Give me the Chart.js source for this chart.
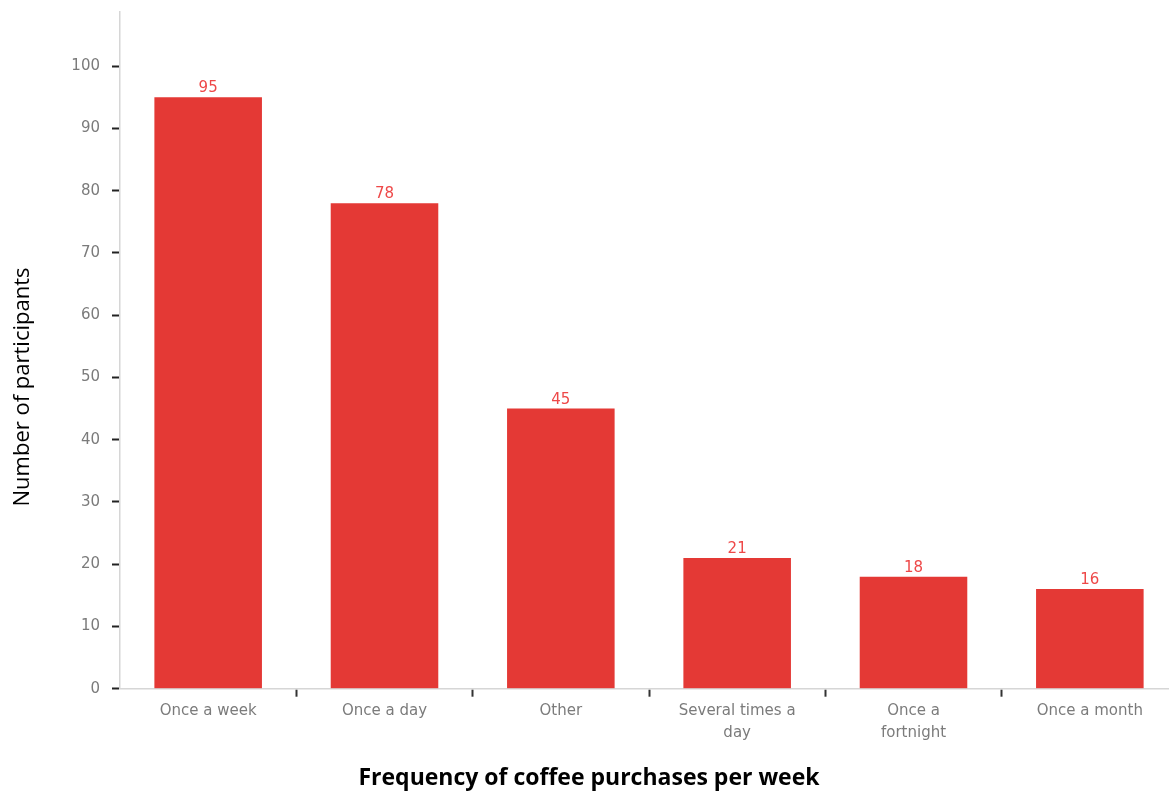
<!DOCTYPE html>
<html>
<head>
<meta charset="utf-8">
<script src="https://cdn.jsdelivr.net/npm/chart.js@4.4.1/dist/chart.umd.min.js"></script>
<style>
  html, body { margin: 0; padding: 0; background: #fff; overflow: hidden; }
  #wrap { width: 1169px; height: 791px; overflow: hidden; }
</style>
</head>
<body>
<div id="wrap"><canvas id="coffeeChart" width="1178" height="791"></canvas></div>
<script>
// categories and counts
const categories = ['Once a week', 'Once a day', 'Other', ['Several times a', 'day'], ['Once a', 'fortnight'], 'Once a month'];
const participants = [95, 78, 45, 21, 18, 16];
const yTicks = [0, 10, 20, 30, 40, 50, 60, 70, 80, 90, 100];
const yTitle = 'Number of participants';

const barColor = 'rgb(228, 57, 53)';
const labelColor = 'rgb(238, 72, 72)';
const tickGray = '#7b7b7b';

// draws the value above each bar + the y axis title (sits a bit low in the original)
const valueLabels = {
  id: 'valueLabels',
  afterDatasetsDraw(chart) {
    const ctx = chart.ctx;
    const meta = chart.getDatasetMeta(0);
    ctx.save();
    ctx.font = '15px "DejaVu Sans"';
    ctx.fillStyle = labelColor;
    ctx.textAlign = 'center';
    ctx.textBaseline = 'alphabetic';
    meta.data.forEach((bar, i) => {
      ctx.fillText(participants[i], bar.x, bar.y - 5);
    });
    ctx.restore();

    ctx.save();
    ctx.translate(23, 387);
    ctx.rotate(-Math.PI / 2);
    ctx.font = '22px "Open Sans"';
    ctx.fillStyle = '#000';
    ctx.textAlign = 'center';
    ctx.textBaseline = 'middle';
    ctx.fillText(yTitle, 0, 0);
    ctx.restore();
  }
};

const ctx = document.getElementById('coffeeChart').getContext('2d');
new Chart(ctx, {
  type: 'bar',
  data: {
    labels: categories,
    datasets: [{
      data: participants,
      backgroundColor: barColor,
      barPercentage: 0.61,
      categoryPercentage: 1
    }]
  },
  options: {
    responsive: false,
    animation: false,
    layout: { padding: { top: 12, left: 0, right: 0, bottom: 0 } },
    plugins: {
      legend: { display: false },
      tooltip: { enabled: false },
      title: {
        display: true,
        position: 'bottom',
        text: 'Frequency of coffee purchases per week',
        color: '#000',
        font: { family: '"Open Sans"', size: 23, weight: 'bold', lineHeight: 1.1 },
        padding: { top: 19, bottom: 0 }
      }
    },
    scales: {
      x: {
        offset: true,
        border: { display: true, color: '#d6d6d6', width: 1.5 },
        grid: {
          offset: true,
          drawOnChartArea: false,
          drawTicks: true,
          tickLength: 8,
          tickWidth: 2,
          tickColor: (c) => (c.index === 0 ? 'rgba(0,0,0,0)' : '#333')
        },
        ticks: {
          color: tickGray,
          padding: 3,
          maxRotation: 0,
          autoSkip: false,
          font: { family: '"DejaVu Sans"', size: 15, lineHeight: '22px' }
        }
      },
      y: {
        min: 0,
        max: 108.7,
        border: { display: true, color: '#d6d6d6', width: 1.5 },
        afterBuildTicks: (scale) => {
          scale.ticks = yTicks.map(v => ({ value: v }));
        },
        afterFit: (scale) => {
          scale.width = 120;
        },
        grid: {
          drawOnChartArea: false,
          drawTicks: true,
          tickLength: 8,
          tickWidth: 2,
          tickColor: '#222'
        },
        ticks: {
          color: tickGray,
          padding: 12,
          font: { family: '"DejaVu Sans"', size: 15, lineHeight: 0.01 }
        }
      }
    }
  },
  plugins: [valueLabels]
});
</script>
</body>
</html>
